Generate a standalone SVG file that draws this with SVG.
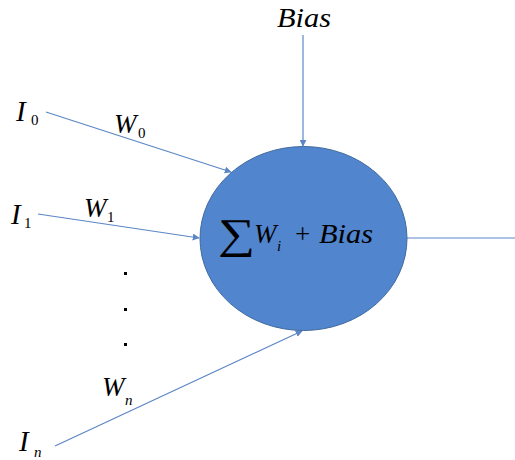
<svg xmlns="http://www.w3.org/2000/svg" width="515" height="460" viewBox="0 0 515 460">
<style>
text{font-family:'Liberation Serif','Times New Roman','DejaVu Serif',serif;fill:#000}
.t{font-style:italic;font-size:27px}
.big{font-style:italic;font-size:29px}
.s{font-size:15px}
.si{font-style:italic;font-size:15px}
.c{stroke:#5B86C6;stroke-width:1.2;fill:none}
</style>
<defs>
<marker id="a" viewBox="0 0 10 10" refX="9" refY="5" markerWidth="7" markerHeight="7" orient="auto" markerUnits="userSpaceOnUse">
<path d="M0,0 L10,5 L0,10 z" fill="#5B86C6"/>
</marker>
</defs>
<rect width="515" height="460" fill="#fff"/>
<g id="connectors">
<line class="c" x1="303" y1="35" x2="303" y2="146" marker-end="url(#a)"/>
<line class="c" x1="46" y1="112" x2="231" y2="172" marker-end="url(#a)"/>
<line class="c" x1="38" y1="214" x2="199" y2="238" marker-end="url(#a)"/>
<line class="c" x1="55" y1="446" x2="302" y2="331" marker-end="url(#a)"/>
<line class="c" x1="407" y1="238" x2="515" y2="238"/>
</g>
<g id="neuron">
<ellipse cx="303.5" cy="238.5" rx="103.5" ry="92" fill="#5185CD" stroke="#3F6A9E" stroke-width="1"/>
<text x="218" y="248" font-size="42" textLength="37" lengthAdjust="spacingAndGlyphs">∑</text>
<text class="t" x="254" y="243">W</text>
<text class="si" x="277" y="251" font-size="13">i</text>
<text x="295" y="243" font-size="27">+</text>
<text class="t" x="319" y="243" textLength="54" lengthAdjust="spacingAndGlyphs">Bias</text>
</g>
<g id="bias"><text class="t" x="277" y="27" font-size="26" textLength="54" lengthAdjust="spacingAndGlyphs">Bias</text></g>
<g id="i0"><text class="big" x="16" y="121">I</text><text class="s" x="31" y="125">0</text></g>
<g id="w0"><text class="t" x="114" y="133">W</text><text class="s" x="138" y="138">0</text></g>
<g id="i1"><text class="big" x="11" y="224">I</text><text class="s" x="24" y="228">1</text></g>
<g id="w1"><text class="t" x="84" y="217">W</text><text class="s" x="107" y="222">1</text></g>
<g id="dots">
<rect x="124" y="272" width="3" height="3" fill="#000"/>
<rect x="124" y="308" width="3" height="3" fill="#000"/>
<rect x="124" y="343" width="3" height="3" fill="#000"/>
</g>
<g id="wn"><text class="t" x="102" y="396">W</text><text class="si" x="125" y="405">n</text></g>
<g id="in"><text class="big" x="19" y="451">I</text><text class="si" x="34" y="457">n</text></g>
</svg>
